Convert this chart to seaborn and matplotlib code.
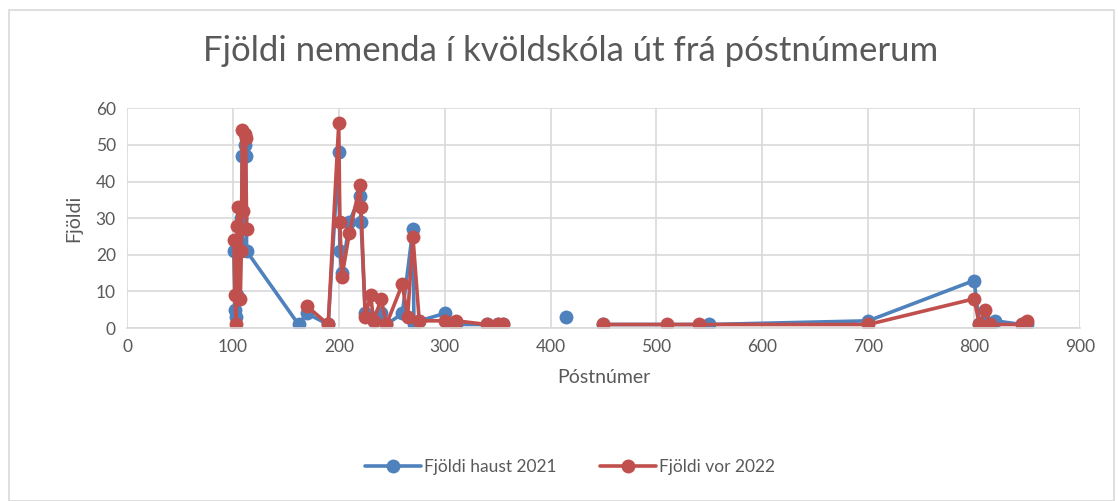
import numpy as np
import pandas as pd
import seaborn as sns
import matplotlib.pyplot as plt
from matplotlib.patches import Rectangle

# postal codes and counts
# seg = line segment number (Excel leaves gaps where cells are empty)
haust_post = [101, 102, 103, 104, 105, 107, 108, 109, 110, 111, 112, 113, 162, 170, 190,
              200, 201, 203, 210, 220, 221, 225, 230, 233, 240, 245, 260, 270, 271, 276,
              300, 310, 311, 340, 350, 355, 415, 450, 550, 700, 800, 805, 810, 815, 820, 845, 850]
haust_val = [21, 5, 3, 9, 24, 22, 30, 47, 27, 50, 47, 21, 1, 4, 1,
             48, 21, 15, 29, 36, 29, 4, 3, 2, 4, 1, 4, 27, 1, 2,
             4, 1, 1, 1, 1, 1, 3, 1, 1, 2, 13, 1, 2, 1, 2, 1, 1]
haust_seg = [0] * 36 + [1] + [2] * 10

vor_post = [101, 102, 103, 104, 105, 107, 108, 109, 110, 111, 112, 113, 170, 190,
            200, 201, 203, 210, 220, 221, 225, 230, 233, 240, 245, 260, 265, 270, 276,
            300, 310, 311, 340, 350, 355, 450, 510, 540, 700, 800, 805, 810, 815, 845, 850]
vor_val = [24, 9, 1, 28, 33, 8, 21, 54, 32, 53, 52, 27, 6, 1,
           56, 29, 14, 26, 39, 33, 3, 9, 2, 8, 1, 12, 3, 25, 2,
           2, 1, 2, 1, 1, 1, 1, 1, 1, 1, 8, 1, 5, 1, 1, 2]
vor_seg = [10] * 12 + [11] * 23 + [12] * 10

series_names = ['Fjöldi haust 2021', 'Fjöldi vor 2022']
colors = ['#4F81BD', '#C0504D']

df = pd.concat([
    pd.DataFrame({'Póstnúmer': haust_post, 'Fjöldi': haust_val, 'seg': haust_seg,
                  'series': series_names[0]}),
    pd.DataFrame({'Póstnúmer': vor_post, 'Fjöldi': vor_val, 'seg': vor_seg,
                  'series': series_names[1]}),
], ignore_index=True)

sns.set_style('white')
plt.rcParams['font.family'] = ['Lato', 'DejaVu Sans']

fig, ax = plt.subplots(figsize=(11.18, 5.01), dpi=100)
plt.subplots_adjust(left=0.1136, right=0.966, top=0.784, bottom=0.345)

sns.lineplot(data=df, x='Póstnúmer', y='Fjöldi', hue='series', units='seg', sort=False,
             palette=dict(zip(series_names, colors)), marker='o', markersize=10,
             markeredgewidth=0, linewidth=2.6, ax=ax, legend=False, estimator=None)

ax.set_xlim(0, 900)
ax.set_ylim(0, 60)
ax.set_xticks(range(0, 901, 100))
ax.set_yticks(range(0, 61, 10))
ax.grid(True, color='#d9d9d9', linewidth=1.2)
ax.set_axisbelow(True)
for s in ['top', 'right', 'left']:
    ax.spines[s].set_visible(False)
ax.spines['bottom'].set_color('#d9d9d9')
ax.spines['bottom'].set_linewidth(1.2)
ax.tick_params(axis='both', length=0, labelsize=12.5, colors='#595959', pad=8)
ax.set_xlabel('Póstnúmer', fontsize=14, color='#595959', labelpad=10)
ax.set_ylabel('Fjöldi', fontsize=14, color='#595959', labelpad=10)

fig.suptitle('Fjöldi nemenda í kvöldskóla út frá póstnúmerum', x=0.51, y=0.93,
             fontsize=25, color='#595959')

handles = [plt.Line2D([], [], color=c, marker='o', markersize=10, linewidth=2.6,
                      markeredgewidth=0) for c in colors]
fig.legend(handles, series_names, loc='center', bbox_to_anchor=(0.51, 0.067), ncol=2,
           frameon=False, fontsize=12.5, labelcolor='#595959', handlelength=3.2,
           handletextpad=0.2, columnspacing=2.5)

fig.patches.append(Rectangle((0.008, 0.0), 0.988, 0.98, transform=fig.transFigure,
                             fill=False, edgecolor='#d9d9d9', linewidth=1.2))

plt.savefig('out.png', dpi=100)
